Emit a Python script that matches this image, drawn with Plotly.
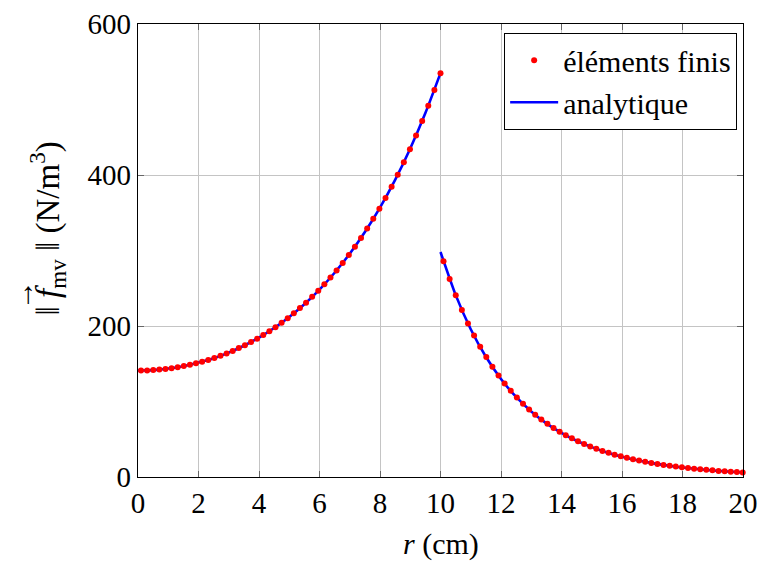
import plotly.graph_objects as go

# finite element nodes, inner region (0 < r < 10 cm)
r_fe_in = [0.100, 0.302, 0.504, 0.706, 0.908, 1.110, 1.312, 1.514, 1.716, 1.918,
           2.120, 2.322, 2.524, 2.727, 2.929, 3.131, 3.333, 3.535, 3.737, 3.939,
           4.141, 4.343, 4.545, 4.747, 4.949, 5.151, 5.353, 5.555, 5.757, 5.959,
           6.161, 6.363, 6.565, 6.767, 6.969, 7.171, 7.373, 7.576, 7.778, 7.980,
           8.182, 8.384, 8.586, 8.788, 8.990, 9.192, 9.394, 9.596, 9.798, 10.000]
f_fe_in = [141.0, 141.2, 141.6, 142.3, 143.1, 144.1, 145.4, 146.9, 148.6, 150.5,
           152.6, 155.0, 157.6, 160.5, 163.6, 167.0, 170.7, 174.6, 178.8, 183.2,
           188.0, 193.1, 198.5, 204.3, 210.4, 216.9, 223.7, 230.9, 238.6, 246.7,
           255.2, 264.1, 273.6, 283.6, 294.1, 305.1, 316.7, 329.0, 341.9, 355.4,
           369.6, 384.6, 400.3, 416.8, 434.2, 452.4, 471.5, 491.6, 512.7, 534.9]

# finite element nodes, outer region (10 < r < 20 cm)
r_fe_out = [10.100, 10.302, 10.504, 10.706, 10.908, 11.110, 11.312, 11.514, 11.716, 11.918,
            12.120, 12.322, 12.524, 12.727, 12.929, 13.131, 13.333, 13.535, 13.737, 13.939,
            14.141, 14.343, 14.545, 14.747, 14.949, 15.151, 15.353, 15.555, 15.757, 15.959,
            16.161, 16.363, 16.565, 16.767, 16.969, 17.171, 17.373, 17.576, 17.778, 17.980,
            18.182, 18.384, 18.586, 18.788, 18.990, 19.192, 19.394, 19.596, 19.798, 19.990]
f_fe_out = [285.6, 262.2, 240.8, 221.2, 203.3, 187.5, 172.5, 158.8, 146.1, 134.6,
            124.0, 114.2, 105.3, 97.1, 89.5, 82.6, 76.2, 70.4, 65.0, 60.0,
            55.4, 51.2, 47.3, 43.8, 40.5, 37.4, 34.6, 32.0, 29.6, 27.4,
            25.4, 23.5, 21.8, 20.2, 18.7, 17.3, 16.0, 14.9, 13.8, 12.8,
            11.8, 11.0, 10.2, 9.5, 8.8, 8.1, 7.6, 7.0, 6.5, 6.1]

# analytical solution
r_an_in = [0.0, 0.5, 1.0, 1.5, 2.0, 2.5, 3.0, 3.5, 4.0, 4.5, 5.0,
           5.5, 6.0, 6.5, 7.0, 7.5, 8.0, 8.5, 9.0, 9.5, 10.0]
f_an_in = [141.0, 141.6, 143.6, 146.8, 151.6, 157.3, 164.8, 173.9, 184.6, 197.3, 212.0,
           228.9, 248.3, 270.5, 295.7, 324.4, 356.8, 393.5, 435.0, 482.0, 534.9]
r_an_out = [10.0, 10.5, 11.0, 11.5, 12.0, 12.5, 13.0, 13.5, 14.0, 14.5, 15.0,
            15.5, 16.0, 16.5, 17.0, 17.5, 18.0, 18.5, 19.0, 19.5, 20.0]
f_an_out = [298.0, 241.2, 195.7, 159.2, 129.8, 106.0, 86.8, 71.1, 58.4, 48.0, 39.6,
            32.6, 26.9, 22.3, 18.4, 15.3, 12.6, 10.5, 8.7, 7.2, 6.0]

x_ticks = [0, 2, 4, 6, 8, 10, 12, 14, 16, 18, 20]
y_ticks = [0, 200, 400, 600]

x_title = "<i>r</i> (cm)"
y_title = "‖ <i>f</i><sub>mv</sub> ‖ (N/m<sup>3</sup>)"
vec_arrow = "→"

FONT = "Liberation Serif"

fig = go.Figure()
fig.add_trace(go.Scatter(
    x=r_an_in + [None] + r_an_out,
    y=f_an_in + [None] + f_an_out,
    mode="lines", name="analytique",
    line=dict(color="#0000ff", width=2.6, shape="spline", smoothing=0.6),
    connectgaps=False, legendrank=2,
))
fig.add_trace(go.Scatter(
    x=r_fe_in + r_fe_out,
    y=f_fe_in + f_fe_out,
    mode="markers", name="éléments finis",
    marker=dict(color="#ff0000", size=6, line=dict(width=0)),
    legendrank=1, cliponaxis=False,
))

axis_common = dict(
    showgrid=True, gridcolor="#c4c4c4", gridwidth=1,
    showline=True, linecolor="black", linewidth=1.2, mirror="ticks",
    ticks="inside", ticklen=6, tickcolor="#666666", tickwidth=1.2,
    zeroline=False, automargin=False,
    tickfont=dict(family=FONT, size=29, color="black"),
)

fig.update_layout(
    width=762, height=562,
    margin=dict(l=138, r=19, t=24, b=85),
    paper_bgcolor="white", plot_bgcolor="white",
    font=dict(family=FONT, size=29, color="black"),
    xaxis=dict(range=[0, 20], tickvals=x_ticks, ticktext=[str(v) for v in x_ticks],
               **axis_common),
    yaxis=dict(range=[0, 600], tickvals=y_ticks, ticktext=[str(v) for v in y_ticks],
               **axis_common),
    legend=dict(
        x=0.990, y=0.980, xanchor="right", yanchor="top",
        bgcolor="white", bordercolor="black", borderwidth=1.2,
        font=dict(family=FONT, size=30, color="black"),
        tracegroupgap=0, itemwidth=48,
    ),
    showlegend=True,
)

fig.add_annotation(text=x_title, xref="paper", yref="paper",
                   x=0.5, y=-0.148, xanchor="center", yanchor="middle",
                   showarrow=False, font=dict(family=FONT, size=30, color="black"))
fig.add_annotation(text=y_title, xref="paper", yref="paper",
                   x=-0.148, y=0.5497, xanchor="center", yanchor="middle",
                   textangle=-90, showarrow=False,
                   font=dict(family=FONT, size=33, color="black"))
fig.add_annotation(text=vec_arrow, xref="paper", yref="paper",
                   x=-0.19, y=0.402, xanchor="center", yanchor="middle",
                   textangle=-90, showarrow=False,
                   font=dict(family=FONT, size=30, color="black"))

fig.write_html("out.html", config={"displayModeBar": False},
               post_script="document.body.style.margin='0px';")
